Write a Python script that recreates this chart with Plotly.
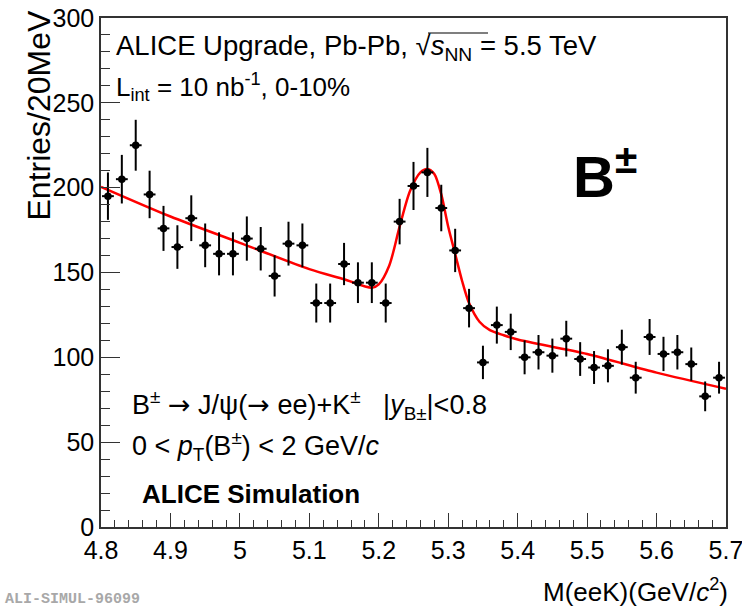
import numpy as np
import plotly.graph_objects as go

# ---- data ----
bin_low = 4.80
bin_width = 0.02
counts = [195, 205, 225, 196, 176, 165, 182, 166, 161, 161,
          170, 164, 148, 167, 166, 132, 132, 155, 144, 144,
          132, 180, 201, 209, 188, 163, 129, 97, 119, 115,
          100, 103, 101, 111, 99, 94, 95, 106, 88, 112,
          102, 103, 96, 77, 88]
bin_centers = [round(bin_low + bin_width * (i + 0.5), 3) for i in range(len(counts))]
errors = [float(np.sqrt(c)) for c in counts]

# fit curve
fit_x = [4.80, 4.90, 5.00, 5.10, 5.15, 5.19, 5.20, 5.215, 5.23, 5.245, 5.26, 5.27,
         5.28, 5.29, 5.30, 5.31, 5.32, 5.33, 5.345, 5.36, 5.38, 5.40, 5.50, 5.60, 5.70]
fit_y = [200.5, 183, 167.5, 152, 146, 141, 143, 154, 177, 198, 209, 211,
         208, 196, 177, 161, 145, 132, 121, 116, 113, 110.5, 102, 91, 81.5]

x_ticks = [4.8, 4.9, 5.0, 5.1, 5.2, 5.3, 5.4, 5.5, 5.6, 5.7]
x_tick_text = ["4.8", "4.9", "5", "5.1", "5.2", "5.3", "5.4", "5.5", "5.6", "5.7"]
y_ticks = [0, 50, 100, 150, 200, 250, 300]

FONT = "Liberation Sans"
ARROW = '<span style="font-family:DejaVu Sans">→</span>'

fig = go.Figure()
fig.add_trace(go.Scatter(
    x=fit_x, y=fit_y, mode="lines", line=dict(color="red", width=2.5, shape="spline", smoothing=0.8),
    hoverinfo="skip", showlegend=False))
fig.add_trace(go.Scatter(
    x=bin_centers, y=counts, mode="markers",
    marker=dict(color="black", size=7.5, symbol="circle"),
    error_y=dict(type="data", array=errors, color="black", thickness=2, width=0),
    error_x=dict(type="constant", value=0.0085, color="black", thickness=2, width=0),
    showlegend=False))

axis_line = dict(showline=True, linecolor="#333", linewidth=1.5, mirror=True,
                 showgrid=False, zeroline=False, automargin=False)
fig.update_xaxes(range=[4.8, 5.70001], tickvals=x_ticks, ticktext=x_tick_text,
                 ticks="inside", ticklen=14, tickwidth=1.2, tickcolor="#333",
                 ticklabeloverflow="allow",
                 minor=dict(dtick=0.02, ticks="inside", ticklen=7, tickwidth=1.2, tickcolor="#333"),
                 tickfont=dict(family=FONT, size=25, color="black"), **axis_line)
fig.update_yaxes(range=[0, 300], tickvals=y_ticks,
                 ticks="inside", ticklen=19, tickwidth=1.2, tickcolor="#333",
                 minor=dict(dtick=10, ticks="inside", ticklen=9, tickwidth=1.2, tickcolor="#333"),
                 tickfont=dict(family=FONT, size=25, color="black"), **axis_line)

L, R, T, B = 101, 16, 18, 80
W, H = 742, 607
pw, ph = W - L - R, H - T - B


def px(xp):
    return (xp - L) / pw


def py(yp):
    return (H - B - yp) / ph


ann = []
ann.append(dict(text="Entries/20MeV", textangle=-90, x=px(38), y=py(8), xanchor="center", yanchor="top",
                font=dict(family=FONT, size=32, color="black")))
ann.append(dict(text="M(eeK)(GeV/<i>c</i><sup>2</sup>)", x=px(730), y=py(590), xanchor="right", yanchor="middle",
                font=dict(family=FONT, size=26, color="black")))
ann.append(dict(text="<b>ALI-SIMUL-96099</b>", x=px(3), y=py(599), xanchor="left", yanchor="middle",
                font=dict(family="Liberation Mono", size=15, color="#a8a8a8")))
ann.append(dict(text="ALICE Upgrade, Pb-Pb, √<i>s</i><sub>NN</sub> = 5.5 TeV", x=px(114), y=py(48),
                xanchor="left", yanchor="middle", font=dict(family=FONT, size=27.5, color="black")))
ann.append(dict(text="L<sub>int</sub> = 10 nb<sup>-1</sup>, 0-10%", x=px(114), y=py(87),
                xanchor="left", yanchor="middle", font=dict(family=FONT, size=26, color="black")))
ann.append(dict(text="<b>B<sup>±</sup></b>", x=px(571), y=py(173), xanchor="left", yanchor="middle",
                font=dict(family=FONT, size=58, color="black")))
ann.append(dict(text="B<sup>±</sup> " + ARROW + " J/ψ(" + ARROW + " ee)+K<sup>±</sup>   |<i>y</i><sub>B±</sub>|<0.8",
                x=px(130), y=py(405), xanchor="left", yanchor="middle",
                font=dict(family=FONT, size=27, color="black")))
ann.append(dict(text="0 < <i>p</i><sub>T</sub>(B<sup>±</sup>) < 2 GeV/<i>c</i>",
                x=px(130), y=py(446), xanchor="left", yanchor="middle",
                font=dict(family=FONT, size=27, color="black")))
ann.append(dict(text="<b>ALICE Simulation</b>", x=px(140), y=py(494), xanchor="left", yanchor="middle",
                font=dict(family=FONT, size=26, color="black")))
for a in ann:
    a.update(xref="paper", yref="paper", showarrow=False)

# overline of the square root
shapes = [dict(type="line", xref="paper", yref="paper", x0=px(428), x1=px(488), y0=py(33), y1=py(33),
               line=dict(color="black", width=1.2))]

fig.update_layout(width=W, height=H, margin=dict(l=L, r=R, t=T, b=B),
                  paper_bgcolor="white", plot_bgcolor="white", annotations=ann, shapes=shapes,
                  font=dict(family=FONT))
fig.write_html("out.html")
